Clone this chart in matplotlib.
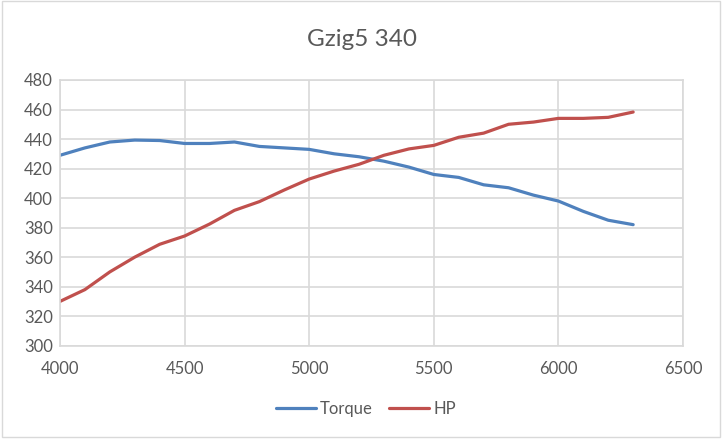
import matplotlib.pyplot as plt
from matplotlib.patches import Rectangle

rpm = [4000, 4100, 4200, 4300, 4400, 4500, 4600, 4700, 4800, 4900, 5000, 5100,
       5200, 5300, 5400, 5500, 5600, 5700, 5800, 5900, 6000, 6100, 6200, 6300]
torque = [429, 434, 438, 439.3, 439, 437, 437, 438, 435, 434, 433, 430,
          428, 425, 421, 416, 414, 409, 407, 402, 398, 391, 385, 382]
hp = [330, 338, 350, 360, 368.7, 374.3, 382.4, 391.7, 397.6, 405.5, 412.9, 418.3,
      422.9, 429, 433.3, 435.7, 441.2, 444, 450, 451.5, 454, 454, 454.7, 458.3]

plt.rcParams['font.family'] = ['Lato', 'DejaVu Sans']

fig = plt.figure(figsize=(7.24, 4.42), dpi=100)
ax = fig.add_axes([60/724, 1 - 345.7/442, (683 - 60)/724, (345.7 - 80)/442])

ax.plot(rpm, torque, color='#4F81BD', lw=2.3, label='Torque', solid_capstyle='round')
ax.plot(rpm, hp, color='#C0504D', lw=2.3, label='HP', solid_capstyle='round')

ax.set_xlim(4000, 6500)
ax.set_ylim(300, 480)
ax.set_xticks(range(4000, 6501, 500))
ax.set_yticks(range(300, 481, 20))
ax.grid(True, color='#D9D9D9', lw=1.2)
ax.set_axisbelow(True)
for s in ax.spines.values():
    s.set_color('#D9D9D9')
    s.set_linewidth(1.2)
ax.tick_params(length=0, labelsize=12, colors='#595959', pad=5)
ax.tick_params(axis='x', pad=11)

fig.text(362/724, 1 - 40/442, 'Gzig5 340', ha='center', va='center',
         fontsize=17.5, color='#595959')

ax.legend(loc='center', bbox_to_anchor=(366/724, 1 - 409/442),
          bbox_transform=fig.transFigure, ncol=2, frameon=False,
          fontsize=12, labelcolor='#595959', handlelength=2.4,
          handletextpad=0.25, columnspacing=1.0)

fig.patches.append(Rectangle((0.003, 0.012), 0.992, 0.985, transform=fig.transFigure,
                             fill=False, edgecolor='#D9D9D9', lw=1))

fig.savefig('out.png', dpi=100)
